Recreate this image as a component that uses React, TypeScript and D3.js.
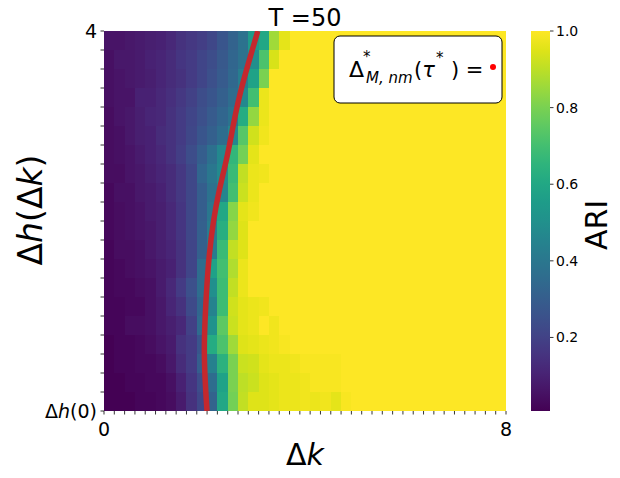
import React from 'react';
import * as d3 from 'd3';

// ARI heatmap, rows listed from top (Δh = 4) to bottom (Δh(0)), 39 columns over Δk in [0, 8]
const ariRows: number[][] = [
  [0.06,0.06,0.07,0.08,0.09,0.10,0.12,0.15,0.17,0.19,0.22,0.27,0.32,0.38,0.55,0.60,0.86,0.96, 1,1,1,1,1, 1,1,1,1,1, 1,1,1,1,1, 1,1,1,1,1, 1],
  [0.05,0.07,0.07,0.08,0.10,0.11,0.13,0.16,0.18,0.21,0.24,0.28,0.33,0.38,0.50,0.72,0.94, 1,1,1,1,1, 1,1,1,1,1, 1,1,1,1,1, 1,1,1,1,1, 1,1],
  [0.05,0.06,0.07,0.08,0.09,0.11,0.13,0.15,0.18,0.21,0.25,0.29,0.34,0.43,0.58,0.80, 1,1,1,1,1, 1,1,1,1,1, 1,1,1,1,1, 1,1,1,1,1, 1,1,1],
  [0.05,0.06,0.06,0.10,0.10,0.12,0.14,0.17,0.20,0.24,0.27,0.31,0.36,0.47,0.70,0.97, 1,1,1,1,1, 1,1,1,1,1, 1,1,1,1,1, 1,1,1,1,1, 1,1,1],
  [0.04,0.06,0.07,0.09,0.11,0.12,0.15,0.18,0.21,0.25,0.29,0.33,0.39,0.62,0.84,0.97, 1,1,1,1,1, 1,1,1,1,1, 1,1,1,1,1, 1,1,1,1,1, 1,1,1],
  [0.04,0.05,0.07,0.09,0.10,0.13,0.15,0.18,0.22,0.27,0.31,0.36,0.47,0.74,0.93,0.98, 1,1,1,1,1, 1,1,1,1,1, 1,1,1,1,1, 1,1,1,1,1, 1,1,1],
  [0.04,0.05,0.06,0.08,0.10,0.12,0.15,0.19,0.24,0.30,0.37,0.47,0.66,0.79,0.96, 1,1,1,1,1, 1,1,1,1,1, 1,1,1,1,1, 1,1,1,1,1, 1,1,1,1],
  [0.04,0.04,0.06,0.07,0.09,0.11,0.13,0.17,0.22,0.33,0.40,0.48,0.68,0.91,0.97,0.98, 1,1,1,1,1, 1,1,1,1,1, 1,1,1,1,1, 1,1,1,1,1, 1,1,1],
  [0.03,0.05,0.05,0.07,0.08,0.10,0.13,0.17,0.22,0.30,0.38,0.46,0.70,0.92,0.97, 1,1,1,1,1, 1,1,1,1,1, 1,1,1,1,1, 1,1,1,1,1, 1,1,1,1],
  [0.03,0.04,0.05,0.06,0.08,0.09,0.12,0.16,0.22,0.30,0.40,0.60,0.82,0.96,0.98, 1,1,1,1,1, 1,1,1,1,1, 1,1,1,1,1, 1,1,1,1,1, 1,1,1,1],
  [0.03,0.04,0.05,0.06,0.07,0.09,0.12,0.16,0.22,0.31,0.42,0.63,0.84,0.95, 1,1,1,1,1, 1,1,1,1,1, 1,1,1,1,1, 1,1,1,1,1, 1,1,1,1,1],
  [0.02,0.04,0.04,0.05,0.07,0.09,0.11,0.15,0.21,0.31,0.42,0.68,0.91,0.95, 1,1,1,1,1, 1,1,1,1,1, 1,1,1,1,1, 1,1,1,1,1, 1,1,1,1,1],
  [0.02,0.03,0.04,0.05,0.06,0.08,0.10,0.15,0.21,0.36,0.57,0.70,0.88,0.97, 1,1,1,1,1, 1,1,1,1,1, 1,1,1,1,1, 1,1,1,1,1, 1,1,1,1,1],
  [0.02,0.03,0.03,0.04,0.05,0.08,0.12,0.18,0.25,0.36,0.50,0.69,0.91,0.97, 1,1,1,1,1, 1,1,1,1,1, 1,1,1,1,1, 1,1,1,1,1, 1,1,1,1,1],
  [0.02,0.02,0.03,0.03,0.05,0.07,0.11,0.15,0.23,0.33,0.45,0.69,0.93,0.96,0.97,0.98, 1,1,1,1,1, 1,1,1,1,1, 1,1,1,1,1, 1,1,1,1,1, 1,1,1],
  [0.02,0.02,0.04,0.04,0.05,0.07,0.09,0.12,0.20,0.35,0.51,0.75,0.92,0.96,0.97,1.00,0.98, 1,1,1,1,1, 1,1,1,1,1, 1,1,1,1,1, 1,1,1,1,1, 1,1],
  [0.01,0.02,0.02,0.03,0.04,0.06,0.08,0.15,0.18,0.27,0.62,0.72,0.86,0.95,0.96,0.97,0.98,0.99, 1,1,1,1,1, 1,1,1,1,1, 1,1,1,1,1, 1,1,1,1,1, 1],
  [0.01,0.02,0.02,0.03,0.03,0.04,0.07,0.13,0.18,0.30,0.44,0.64,0.80,0.92,0.93,0.96,0.97,0.97,0.98,0.99,0.99,0.99,0.99, 1,1,1,1,1, 1,1,1,1,1, 1,1,1,1,1, 1],
  [0.01,0.01,0.02,0.02,0.03,0.03,0.05,0.10,0.16,0.24,0.36,0.58,0.80,0.90,0.92,0.95,0.96,0.97,0.97,0.98,0.99,0.99,0.99, 1,1,1,1,1, 1,1,1,1,1, 1,1,1,1,1, 1],
  [0.01,0.01,0.01,0.02,0.02,0.03,0.04,0.08,0.15,0.22,0.32,0.60,0.79,0.91,0.95,0.95,0.96,0.97,0.97,0.98,0.97,0.98,0.96,0.99, 1,1,1,1,1, 1,1,1,1,1, 1,1,1,1,1],
];

// red boundary curve (Δk, Δh)
const curveK = [2.05, 2.01, 1.99, 2.01, 2.04, 2.09, 2.17, 2.29, 2.45, 2.57, 2.71, 2.89, 3.06];
const curveH = [0.00, 0.33, 0.64, 0.96, 1.27, 1.64, 1.99, 2.33, 2.66, 3.01, 3.36, 3.69, 4.00];

const cbTicks = [0.2, 0.4, 0.6, 0.8, 1.0];
const nCols = 39;
const nRows = 20;
const kMax = 8;
const hMax = 4;

const FONT = 'DejaVu Sans, sans-serif';

export default function App() {
  const left = 104, right = 506, top = 31, bottom = 411;
  const x = d3.scaleLinear().domain([0, kMax]).range([left, right]);
  const y = d3.scaleLinear().domain([0, hMax]).range([bottom, top]);
  const color = d3.scaleSequential(d3.interpolateViridis).domain([0.008, 1]);

  const dk = kMax / nCols;
  const dh = hMax / nRows;

  const cells: JSX.Element[] = [];
  ariRows.forEach((row, r) => {
    row.forEach((v, c) => {
      const x0 = x(c * dk), x1 = x((c + 1) * dk);
      const y0 = y(hMax - r * dh), y1 = y(hMax - (r + 1) * dh);
      cells.push(
        <rect key={r + '-' + c} x={x0} y={y0} width={x1 - x0 + 0.4} height={y1 - y0 + 0.4}
          fill={color(v)} />
      );
    });
  });

  const line = d3.line<number>()
    .x((d, i) => x(curveK[i]))
    .y((d, i) => y(curveH[i]))
    .curve(d3.curveBasis);

  const xTicks = d3.range(nCols + 1).map(i => i * dk);
  const yTicks = d3.range(nRows + 1).map(i => i * dh);

  // colorbar
  const cbL = 531, cbR = 550;
  const cb = d3.scaleLinear().domain([0.008, 1]).range([bottom, top]);
  const stops = d3.range(0, 1.0001, 0.05);

  return (
    <svg width={620} height={478} style={{ position: 'absolute', left: 0, top: 0 }}
      fontFamily={FONT}>
      <rect width={620} height={478} fill="#fff" />
      <defs>
        <linearGradient id="viridis" x1="0" y1="1" x2="0" y2="0">
          {stops.map(s => (
            <stop key={s} offset={s} stopColor={d3.interpolateViridis(s)} />
          ))}
        </linearGradient>
        <clipPath id="plotclip">
          <rect x={left} y={top} width={right - left} height={bottom - top} />
        </clipPath>
      </defs>

      <g shapeRendering="crispEdges">{cells}</g>

      <path d={line(curveK) || ''} fill="none" stroke="#c4282d" strokeWidth={5.5}
        clipPath="url(#plotclip)" />

      {/* x ticks */}
      {xTicks.map((t, i) => (
        <line key={'xt' + i} x1={x(t)} x2={x(t)} y1={bottom} y2={bottom + 3.5}
          stroke="#000" strokeWidth={0.8} />
      ))}
      {yTicks.map((t, i) => (
        <line key={'yt' + i} x1={left - 3.5} x2={left} y1={y(t)} y2={y(t)}
          stroke="#000" strokeWidth={0.8} />
      ))}
      <text x={x(0)} y={436} fontSize={19} textAnchor="middle">0</text>
      <text x={x(8)} y={436} fontSize={19} textAnchor="middle">8</text>
      <text x={97} y={y(4) + 7} fontSize={19} textAnchor="end">4</text>
      <text x={97} y={y(0) + 7} fontSize={19} textAnchor="end">
        Δ<tspan fontStyle="italic">h</tspan>(0)
      </text>

      {/* title and axis labels */}
      <text x={305} y={26} fontSize={24} textAnchor="middle">T =50</text>
      <text x={305} y={465} fontSize={30} textAnchor="middle">
        Δ<tspan fontStyle="italic">k</tspan>
      </text>
      <text transform="translate(42,210) rotate(-90)" fontSize={33} textAnchor="middle">
        Δ<tspan fontStyle="italic">h</tspan>(Δ<tspan fontStyle="italic">k</tspan>)
      </text>

      {/* legend box */}
      <rect x={334} y={36} width={168} height={67} rx={6} ry={6} fill="#fff"
        stroke="#000" strokeWidth={1} />
      <text x={349} y={77} fontSize={22}>Δ</text>
      <text x={363} y={62} fontSize={15}>*</text>
      <text x={366} y={83} fontSize={15} fontStyle="italic">M, nm</text>
      <text x={414} y={77} fontSize={21}>(<tspan fontStyle="italic">τ</tspan></text>
      <text x={436} y={63} fontSize={15}>*</text>
      <text x={451} y={77} fontSize={21}>) =</text>
      <circle cx={493} cy={67} r={3} fill="#ff0000" />

      {/* colorbar */}
      <rect x={cbL} y={top} width={cbR - cbL} height={bottom - top} fill="url(#viridis)" />
      {cbTicks.map(t => (
        <g key={'cb' + t}>
          <line x1={cbR} x2={cbR + 3.5} y1={cb(t)} y2={cb(t)} stroke="#000" strokeWidth={0.8} />
          <text x={cbR + 6} y={cb(t) + 5} fontSize={14}>{t.toFixed(1)}</text>
        </g>
      ))}
      <text transform="translate(607,225) rotate(-90)" fontSize={30} textAnchor="middle">ARI</text>
    </svg>
  );
}
